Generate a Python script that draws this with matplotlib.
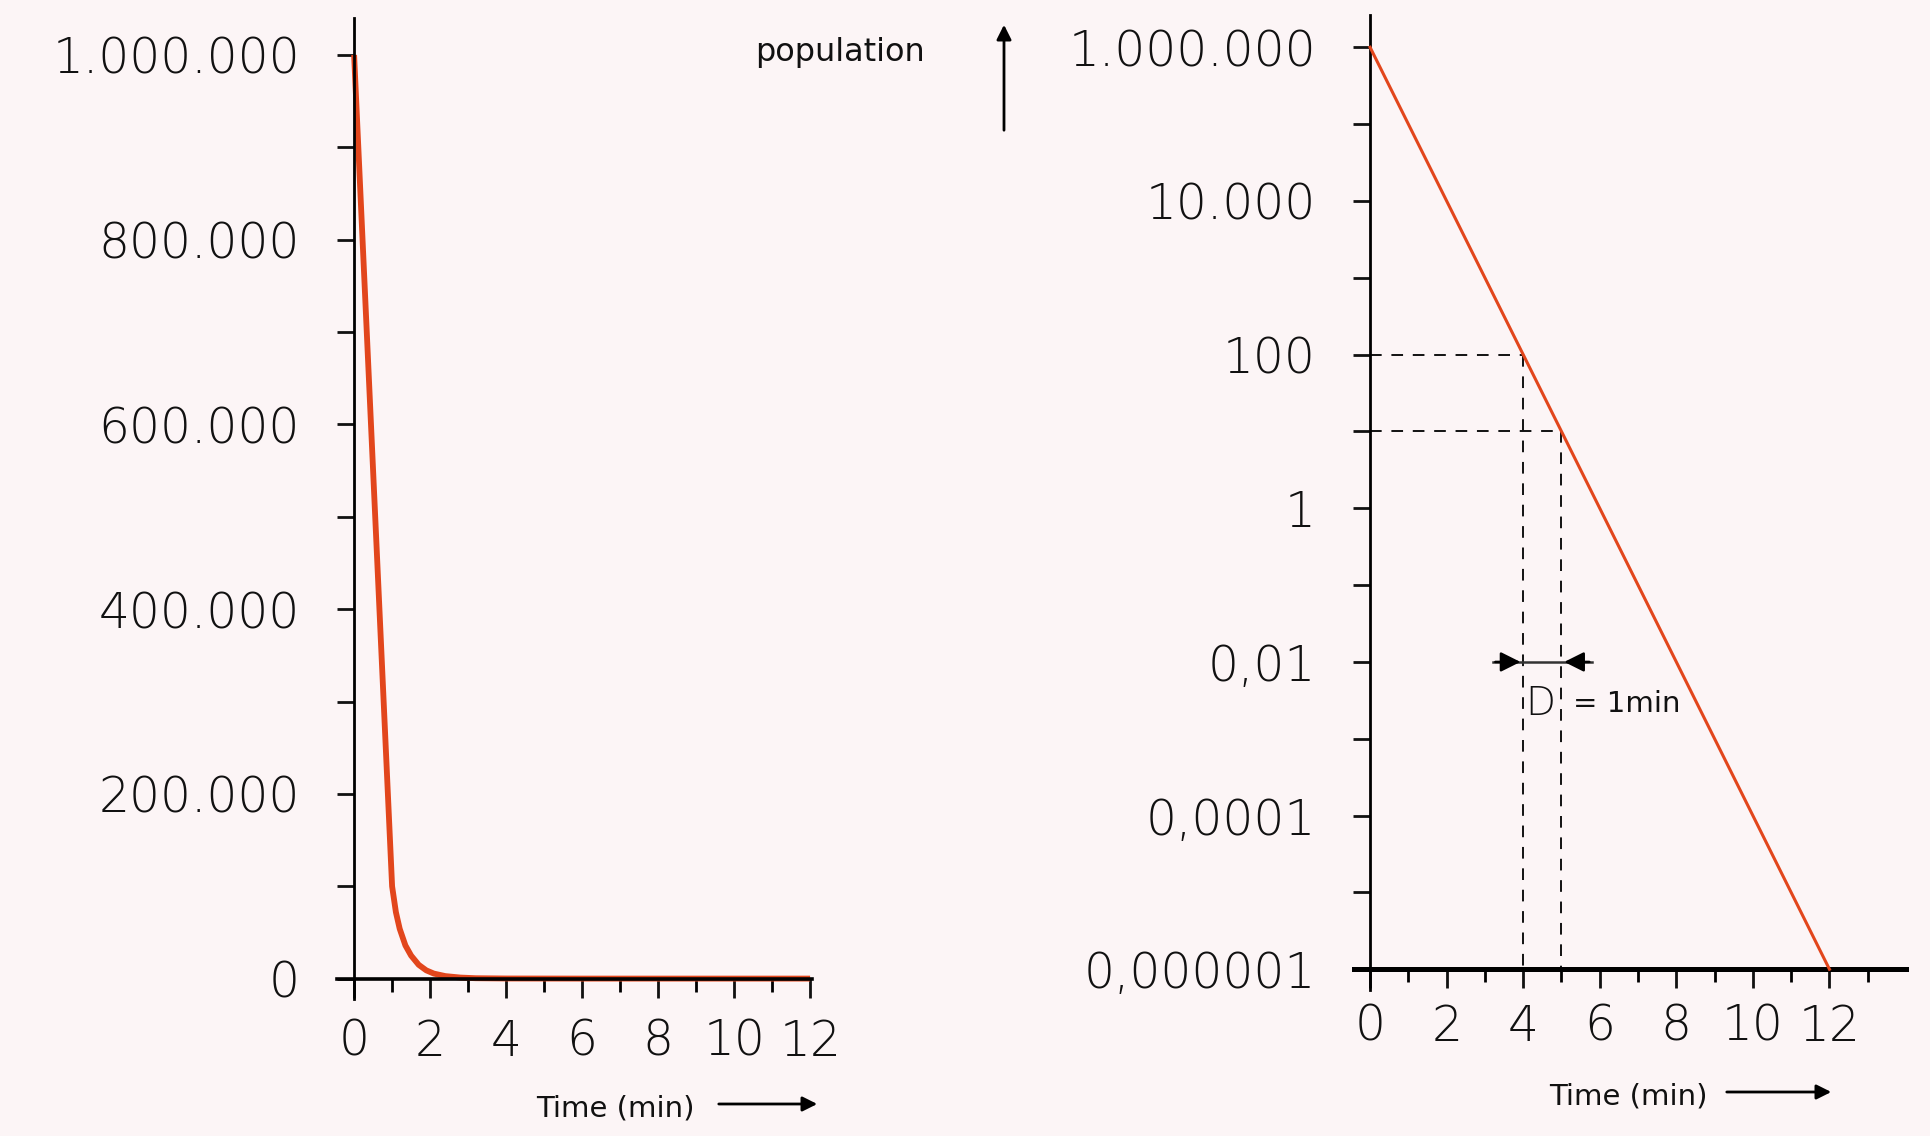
import matplotlib
matplotlib.use("Agg")
import matplotlib.pyplot as plt
from matplotlib.ticker import FixedLocator

# Werte
t_left = [0, 0.5, 1.0, 1.1, 1.2, 1.35, 1.5, 1.7, 1.9, 2.1, 2.4, 2.8, 3.2, 4, 6, 8, 10, 12]
pop_left = [1000000, 550000, 100000, 72000, 54000, 36000, 25000, 15000, 9000, 5500,
            2800, 1200, 500, 200, 100, 100, 100, 100]

t_right = [0, 1, 2, 3, 4, 5, 6, 7, 8, 9, 10, 11, 12]
pop_right = [1e6, 1e5, 1e4, 1e3, 1e2, 1e1, 1e0, 1e-1, 1e-2, 1e-3, 1e-4, 1e-5, 1e-6]

left_yticks = [0, 200000, 400000, 600000, 800000, 1000000]
left_ylabels = ["0", "200.000", "400.000", "600.000", "800.000", "1.000.000"]
right_yticks = [1e-6, 1e-4, 1e-2, 1, 1e2, 1e4, 1e6]
right_ylabels = ["0,000001", "0,0001", "0,01", "1", "100", "10.000", "1.000.000"]
x_major = [0, 2, 4, 6, 8, 10, 12]

D_start, D_end = 4, 5   # D-Wert: 100 -> 10
D_y = [100, 10]

LINE = "#e2461c"
BG = "#fcf5f6"
TXT = dict(family="DejaVu Sans", color="#111111")

plt.rcParams["font.family"] = ["DejaVu Sans"]

fig = plt.figure(figsize=(19.3, 11.36), dpi=100, facecolor=BG)
W, H = 1930, 1136


def style_axes(ax):
    ax.set_facecolor("none")
    ax.spines["top"].set_visible(False)
    ax.spines["right"].set_visible(False)
    ax.spines["left"].set_linewidth(2.0)
    ax.spines["bottom"].set_linewidth(2.6)
    ax.tick_params(axis="y", which="both", direction="out", length=12, width=2.0,
                   labelsize=35, pad=27, colors="#111111")
    ax.tick_params(axis="x", which="major", direction="out", length=14, width=2.0,
                   labelsize=35, pad=14, colors="#111111")
    ax.tick_params(axis="x", which="minor", direction="out", length=9, width=2.0)
    for lab in ax.get_xticklabels() + ax.get_yticklabels():
        lab.set_fontweight("light")


# linke Grafik: lineare Achse
ax1 = fig.add_axes([337 / W, 137 / H, (812 - 337) / W, (1118 - 137) / H])
ax1.plot(t_left, pop_left, color=LINE, lw=4.2, solid_capstyle="butt", clip_on=False)
ax1.set_xlim(-0.45, 12.05)
ax1.set_ylim(-22000, 1040000)
ax1.spines["left"].set_position(("data", 0))
ax1.spines["bottom"].set_position(("data", 0))
ax1.set_yticks(left_yticks, left_ylabels)
ax1.yaxis.set_minor_locator(FixedLocator([100000, 300000, 500000, 700000, 900000]))
ax1.set_xticks(x_major, [str(v) for v in x_major])
ax1.xaxis.set_minor_locator(FixedLocator([1, 3, 5, 7, 9, 11]))
style_axes(ax1)

# rechte Grafik: logarithmische Achse
ax2 = fig.add_axes([1354 / W, 146 / H, (1906 - 1354) / W, (1121 - 146) / H])
ax2.set_yscale("log")
ax2.plot(t_right, pop_right, color=LINE, lw=2.2, zorder=3)
ax2.set_xlim(-0.42, 14.0)
ax2.set_ylim(10 ** -6.27, 10 ** 6.42)
ax2.spines["left"].set_position(("data", 0))
ax2.spines["bottom"].set_position(("data", 1e-6))
ax2.set_yticks(right_yticks, right_ylabels)
ax2.yaxis.set_minor_locator(FixedLocator([1e-5, 1e-3, 1e-1, 1e1, 1e3, 1e5]))
ax2.yaxis.set_minor_formatter(plt.NullFormatter())
ax2.set_xticks(x_major, [str(v) for v in x_major])
ax2.xaxis.set_minor_locator(FixedLocator([1, 3, 5, 7, 9, 11, 13]))
style_axes(ax2)
ax2.spines["bottom"].set_linewidth(3.6)
ax2.tick_params(axis="x", which="major", pad=10)

# gestrichelte Hilfslinien für den D-Wert
dash = dict(color="#111111", lw=1.4, dashes=(6, 5))
ax2.plot([0, D_start], [D_y[0], D_y[0]], **dash)
ax2.plot([0, D_end], [D_y[1], D_y[1]], **dash)
ax2.plot([D_start, D_start], [D_y[0], 1e-6], **dash)
ax2.plot([D_end, D_end], [D_y[1], 1e-6], **dash)

ax2.plot([3.2, 5.8], [0.01, 0.01], color="#333333", lw=1.8)
ax2.annotate("", xy=(D_start, 0.01), xytext=(3.2, 0.01),
             arrowprops=dict(arrowstyle="-|>", color="black", lw=1.8, mutation_scale=30))
ax2.annotate("", xy=(D_end, 0.01), xytext=(5.8, 0.01),
             arrowprops=dict(arrowstyle="-|>", color="black", lw=1.8, mutation_scale=30))
ax2.text(4.45, 0.0028, "D", fontsize=28, ha="center", va="center", fontweight="light", **TXT)
ax2.text(5.3, 0.0028, "= 1min", fontsize=21, ha="left", va="center", **TXT)

# Achsenbeschriftungen mit Pfeilen
fig.text(840 / W, 1 - 52 / H, "population", fontsize=23, ha="center", va="center", **TXT)
fig.add_artist(matplotlib.patches.FancyArrowPatch(
    (1004 / W, 1 - 133 / H), (1004 / W, 1 - 22 / H), transform=fig.transFigure,
    arrowstyle="-|>", mutation_scale=22, lw=2.0, color="black"))

fig.text(536 / W, 1 - 1108 / H, "Time (min)", fontsize=21, ha="left", va="center", **TXT)
fig.add_artist(matplotlib.patches.FancyArrowPatch(
    (716 / W, 1 - 1104 / H), (820 / W, 1 - 1104 / H), transform=fig.transFigure,
    arrowstyle="-|>", mutation_scale=22, lw=2.0, color="black"))

fig.text(1549 / W, 1 - 1096 / H, "Time (min)", fontsize=21, ha="left", va="center", **TXT)
fig.add_artist(matplotlib.patches.FancyArrowPatch(
    (1724 / W, 1 - 1092 / H), (1834 / W, 1 - 1092 / H), transform=fig.transFigure,
    arrowstyle="-|>", mutation_scale=22, lw=2.0, color="black"))

fig.savefig("out.png", dpi=100, facecolor=BG)
